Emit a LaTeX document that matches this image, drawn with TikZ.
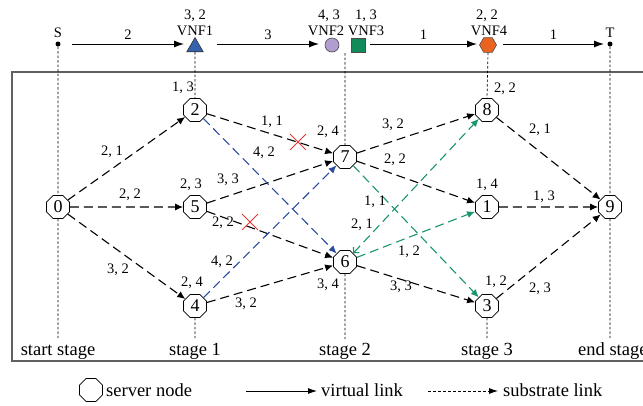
\documentclass[tikz,border=0pt]{standalone}
\usepackage{fontspec}
\setmainfont{Liberation Serif}
\usetikzlibrary{shapes.geometric,shapes.misc,arrows.meta}
\definecolor{eblue}{HTML}{2B4BA0}
\definecolor{egreen}{HTML}{17966A}
\definecolor{tblue}{HTML}{3562AC}
\definecolor{cpurple}{HTML}{B29DD0}
\definecolor{sgreen}{HTML}{138A5A}
\definecolor{horange}{HTML}{EA6420}
\definecolor{xred}{HTML}{F03535}
\definecolor{frame}{HTML}{606060}
\begin{document}
\begin{tikzpicture}[x=1pt,y=-1pt,
  srv/.style={regular polygon, regular polygon sides=8, draw, line width=0.7pt, inner sep=0pt, minimum size=25pt, fill=white, font=\fontsize{18}{18}\selectfont},
  lbl/.style={font=\fontsize{14.5}{15}\selectfont, inner sep=0pt},
  big/.style={font=\fontsize{18.5}{19}\selectfont, inner sep=0pt},
  sublink/.style={dash pattern=on 9pt off 5pt, line width=1.1pt, -{Latex[length=8pt,width=7pt]}},
  vline/.style={dash pattern=on 2.5pt off 2pt, line width=0.7pt},
  virt/.style={line width=1pt, -{Latex[length=10pt,width=7pt]}},
  dot/.style={circle, fill, inner sep=0pt, minimum size=5pt},
  xmark/.style={cross out, draw=xred, line width=0.8pt, minimum size=15pt, inner sep=0pt}
]
\useasboundingbox (0,0) rectangle (643,405);

% frame
\draw[frame, line width=1.4pt] (660,72) -- (12,72) -- (12,361) -- (660,361);

% top virtual chain
\node[dot] (S) at (58,44) {};
\node[lbl] (Sl) at (58,33) {S};
\node[regular polygon, regular polygon sides=3, fill=tblue, draw=black!80, line width=0.6pt, minimum size=19pt, inner sep=0pt] (v1) at (195,47) {};
\node[lbl] (v1n) at (195,31) {VNF1};
\node[lbl] (v1c) at (195,16) {3, 2};
\node[circle, fill=cpurple, draw=black!70, line width=0.6pt, minimum size=14pt, inner sep=0pt] (v2) at (332,45) {};
\node[lbl] (v2n) at (326,31) {VNF2};
\node[lbl] (v2c) at (329,16) {4, 3};
\node[rectangle, fill=sgreen, draw=black!70, line width=0.6pt, minimum size=14pt, inner sep=0pt] (v3) at (358,45) {};
\node[lbl] (v3n) at (366,31) {VNF3};
\node[lbl] (v3c) at (366,16) {1, 3};
\node[regular polygon, regular polygon sides=6, fill=horange, draw=black!70, line width=0.6pt, minimum size=17pt, inner sep=0pt] (v4) at (488,45) {};
\node[lbl] (v4n) at (489,31) {VNF4};
\node[lbl] (v4c) at (487,16) {2, 2};
\node[dot] (T) at (610,44) {};
\node[lbl] (Tl) at (610,33) {T};

\coordinate (a1s) at (72,44);  \coordinate (a1e) at (184,44);
\coordinate (a2s) at (217,44); \coordinate (a2e) at (319,44);
\coordinate (a3s) at (370,44); \coordinate (a3e) at (477,44);
\coordinate (a4s) at (503,44); \coordinate (a4e) at (604,44);
\draw[virt] (a1s) -- node[lbl, above=4pt] (w1) {2} (a1e);
\draw[virt] (a2s) -- node[lbl, above=4pt] (w2) {3} (a2e);
\draw[virt] (a3s) -- node[lbl, above=4pt] (w3) {1} (a3e);
\draw[virt] (a4s) -- node[lbl, above=4pt] (w4) {1} (a4e);

% bottom ends of stage lines
\coordinate (b0) at (58,338);
\coordinate (b1) at (195,338);
\coordinate (b2) at (345,339);
\coordinate (b3) at (487,338);
\coordinate (b4) at (610,338);
\coordinate (t2) at (345,53);

% server nodes
\node[srv] (n0) at (58,207) {0};
\node[srv] (n2) at (195,110) {2};
\node[srv] (n5) at (195,207) {5};
\node[srv] (n4) at (195,306) {4};
\node[srv] (n7) at (345,157) {7};
\node[srv] (n6) at (345,262) {6};
\node[srv] (n8) at (487,110) {8};
\node[srv] (n1) at (487,207) {1};
\node[srv] (n3) at (487,306) {3};
\node[srv] (n9) at (610,207) {9};

% stage lines
\draw[vline] (S) -- (n0.north);
\draw[vline] (n0.south) -- (b0);
\draw[vline] (v1.south) -- (n2.north);
\draw[vline] (n4.south) -- (b1);
\draw[vline] (t2) -- (n7.north);
\draw[vline] (n6.south) -- (b2);
\draw[vline] (v4.south) -- (n8.north);
\draw[vline] (n3.south) -- (b3);
\draw[vline] (T) -- (n9.north);
\draw[vline] (n9.south) -- (b4);

% node capacity labels
\node[lbl] (c2) at (183,88) {1, 3};
\node[lbl] (c5) at (191,185) {2, 3};
\node[lbl] (c4) at (192,283) {2, 4};
\node[lbl] (c7) at (328,132) {2, 4};
\node[lbl] (c6) at (328,285) {3, 4};
\node[lbl] (c8) at (505,89) {2, 2};
\node[lbl] (c1) at (487,185) {1, 4};
\node[lbl] (c3) at (496,282) {1, 2};

% substrate links (black)
\draw[sublink] (n0) -- (n2);
\draw[sublink] (n0) -- (n5);
\draw[sublink] (n0) -- (n4);
\draw[sublink] (n2) -- (n7);
\draw[sublink] (n5) -- (n7);
\draw[sublink] (n5) -- (n6);
\draw[sublink] (n4) -- (n6);
\draw[sublink] (n7) -- (n8);
\draw[sublink] (n7) -- (n1);
\draw[sublink] (n6) -- (n3);
\draw[sublink] (n8) -- (n9);
\draw[sublink] (n1) -- (n9);
\draw[sublink] (n3) -- (n9);
% blue
\draw[sublink, eblue] (n2) -- (n6);
\draw[sublink, eblue] (n4) -- (n7);
% green
\draw[sublink, egreen, {Straight Barb[length=4pt,width=8pt]}-{Latex[length=8pt,width=7pt]}] (n6) -- (n8);
\draw[sublink, egreen] (n6) -- (n1);
\draw[sublink, egreen] (n7) -- (n3);

% link labels
\node[lbl] (e02) at (112,152) {2, 1};
\node[lbl] (e05) at (130,195) {2, 2};
\node[lbl] (e04) at (118,270) {3, 2};
\node[lbl] (e27) at (272,122) {1, 1};
\node[lbl] (e26) at (264,153) {4, 2};
\node[lbl] (e57) at (228,180) {3, 3};
\node[lbl] (e56) at (223,223) {2, 2};
\node[lbl] (e47) at (222,262) {4, 2};
\node[lbl] (e46) at (246,304) {3, 2};
\node[lbl] (e78) at (393,125) {3, 2};
\node[lbl] (e71) at (395,160) {2, 2};
\node[lbl] (e73) at (375,202) {1, 1};
\node[lbl] (e68) at (362,225) {2, 1};
\node[lbl] (e61) at (409,252) {1, 2};
\node[lbl] (e63) at (401,287) {3, 3};
\node[lbl] (e89) at (540,130) {2, 1};
\node[lbl] (e19) at (544,197) {1, 3};
\node[lbl] (e39) at (540,289) {2, 3};

% red crosses
\node[xmark] (x1) at (298,142) {};
\node[xmark] (x2) at (250,222) {};

% stage labels
\node[big, anchor=base] (s0) at (58,355) {start stage};
\node[big, anchor=base] (s1) at (195,355) {stage 1};
\node[big, anchor=base] (s2) at (345,355) {stage 2};
\node[big, anchor=base] (s3) at (487,355) {stage 3};
\node[big, anchor=base west] (s4) at (578,355) {end stage};

% legend
\node[srv] (lg) at (91,390) {};
\node[big, anchor=base west] (lgt) at (106,396) {server node};
\coordinate (l1s) at (246,391); \coordinate (l1e) at (317,391);
\draw[line width=0.9pt, -{Latex[length=9pt,width=6pt]}] (l1s) -- (l1e);
\node[big, anchor=base west] (lvt) at (321,396) {virtual link};
\coordinate (l2s) at (428,391); \coordinate (l2e) at (498,391);
\draw[dash pattern=on 3pt off 2pt, line width=0.8pt, -{Latex[length=9pt,width=6pt]}] (l2s) -- (l2e);
\node[big, anchor=base west] (lst) at (503,396) {substrate link};
\end{tikzpicture}
\end{document}
